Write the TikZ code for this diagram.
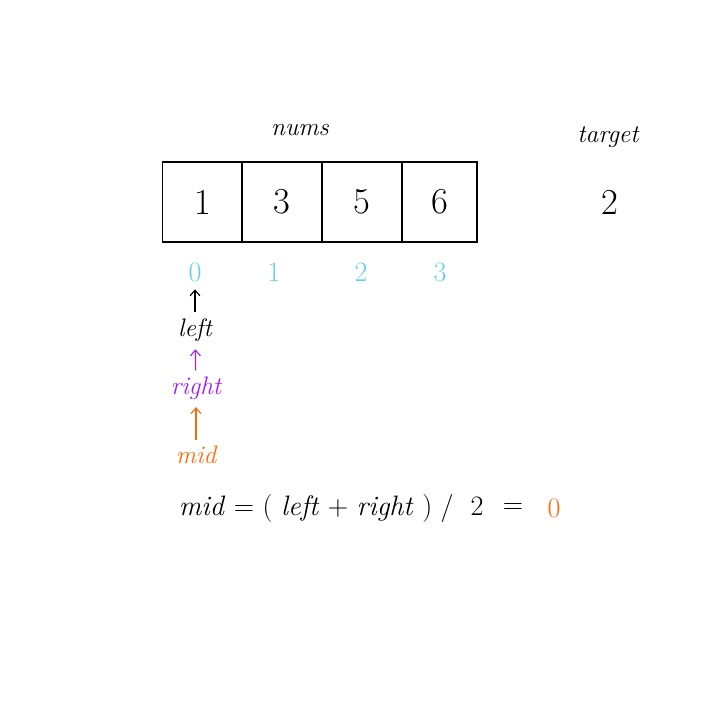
\documentclass[tikz,border=0pt]{standalone}
\definecolor{IndexColor}{HTML}{66CFE6}
\definecolor{PointerLeft}{HTML}{000000}
\definecolor{PointerRight}{HTML}{A41CF5}
\definecolor{PointerMid}{HTML}{FF6A0A}
\usetikzlibrary{arrows.meta, positioning}

\begin{document}
\begin{tikzpicture}[x=0.025cm, y=-0.025cm,
    cell/.style={draw, line width=0.8pt, minimum width=2cm, minimum height=2cm, inner sep=0pt, font=\fontsize{26}{30}\selectfont},
    index/.style={text=IndexColor, font=\fontsize{20}{24}\selectfont},
    word/.style={font=\fontsize{18}{22}\selectfont\itshape},
    pointer/.style={-{Straight Barb[length=4pt, width=7pt]}, line width=0.8pt, shorten <=1pt, shorten >=2pt}]

    \useasboundingbox (0,0) rectangle (720,720);

    % Arreglo nums
    \node [word] (nums) at (300,130) {nums};
    \node [cell] (c0) at (202.5,202) {1};
    \node [cell] (c1) at (282,202) {3};
    \node [cell] (c2) at (362,202) {5};
    \node [cell, minimum width=1.875cm] (c3) at (439.5,202) {6};

    % Valor buscado
    \node [word] (target) at (608,137) {target};
    \node [font=\fontsize{26}{30}\selectfont] (tval) at (610,202) {2};

    % Indices
    \node [index] (i0) at (195,272) {0};
    \node [index] (i1) at (274,272) {1};
    \node [index] (i2) at (361,272) {2};
    \node [index] (i3) at (440,272) {3};

    % Punteros
    \node [word, text=PointerLeft] (left) at (195,330) {left};
    \node [word, text=PointerRight] (right) at (196,388) {right};
    \node [word, text=PointerMid] (mid) at (196,455) {mid};
    \draw [pointer, PointerLeft] (left) -- (i0);
    \draw [pointer, PointerRight] (right) -- (left);
    \draw [pointer, PointerMid] (mid) -- (right);

    % Calcular mid
    \node [font=\fontsize{20}{24}\selectfont, anchor=west] (formula) at (174,508)
        {\textit{mid}\ =\ ( \textit{left} + \textit{right} )\ /\ \ 2};
    \node [font=\fontsize{20}{24}\selectfont] (eq) at (513,508) {=};
    \node [font=\fontsize{20}{24}\selectfont, text=PointerMid] (res) at (554,508) {0};

\end{tikzpicture}
\end{document}
